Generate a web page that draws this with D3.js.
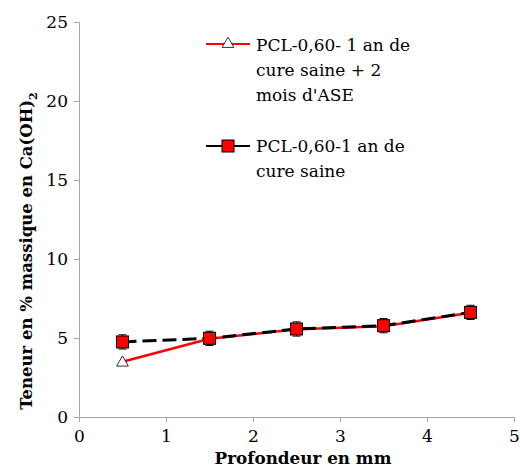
<!DOCTYPE html>
<html><head><meta charset="utf-8">
<script src="https://cdn.jsdelivr.net/npm/d3@7"></script>
<style>body{margin:0;background:#fff}svg{display:block}text{font-family:"DejaVu Serif",serif}</style>
</head><body><svg id="c" width="520" height="471"></svg>
<script>
const depth = [0.5, 1.5, 2.5, 3.5, 4.5];
const aseValues = [3.5, 4.95, 5.55, 5.75, 6.6];
const saineValues = [4.75, 4.98, 5.57, 5.78, 6.62];
const saineErr = [0.45, 0.45, 0.45, 0.45, 0.45];
const xTicks = [0, 1, 2, 3, 4, 5];
const yTicks = [0, 5, 10, 15, 20, 25];
const legendLabels = [["PCL-0,60- 1 an de", "cure saine + 2", "mois d'ASE"], ["PCL-0,60-1 an de", "cure saine"]];

const svg = d3.select("#c");
const x = d3.scaleLinear().domain([0, 5]).range([79, 514]);
const y = d3.scaleLinear().domain([0, 25]).range([417, 22]);
const axisColor = "#a6a6a6";
const fs = 17;

const gx = svg.append("g").attr("transform", `translate(0,${y(0)})`)
  .call(d3.axisBottom(x).tickValues(xTicks).tickSize(5).tickPadding(8).tickFormat(d3.format("d")));
const gy = svg.append("g").attr("transform", `translate(${x(0)},0)`)
  .call(d3.axisLeft(y).tickValues(yTicks).tickSize(5).tickPadding(6).tickFormat(d3.format("d")));
[gx, gy].forEach(g => {
  g.select(".domain").attr("stroke", axisColor);
  g.selectAll(".tick line").attr("stroke", axisColor);
  g.selectAll(".tick text").attr("fill", "#000").style("font-size", fs + "px").style("font-family", '"DejaVu Serif",serif');
});

const pts1 = depth.map((d, i) => [d, aseValues[i]]);
const pts2 = depth.map((d, i) => [d, saineValues[i]]);
const line = d3.line().x(d => x(d[0])).y(d => y(d[1]));

svg.append("path").attr("d", line(pts1)).attr("fill", "none").attr("stroke", "#ff0000").attr("stroke-width", 2.5);
svg.append("path").attr("d", line(pts2)).attr("fill", "none").attr("stroke", "#000").attr("stroke-width", 3).attr("stroke-dasharray", "14,6");

// error bars
const eb = svg.append("g");
depth.forEach((d, i) => {
  const cx = x(d), y1 = y(saineValues[i] - saineErr[i]), y2 = y(saineValues[i] + saineErr[i]);
  eb.append("line").attr("x1", cx).attr("x2", cx).attr("y1", y1).attr("y2", y2).attr("stroke", "#000").attr("stroke-width", 1);
  [y1, y2].forEach(yy => eb.append("line").attr("x1", cx - 4).attr("x2", cx + 4).attr("y1", yy).attr("y2", yy).attr("stroke", "#000").attr("stroke-width", 1));
});

const tri = d3.symbol().type(d3.symbolTriangle).size(60);
svg.append("g").selectAll("path").data(pts1).join("path")
  .attr("d", tri).attr("transform", d => `translate(${x(d[0])},${y(d[1]) + 1})`)
  .attr("fill", "#fff").attr("stroke", "#000").attr("stroke-width", 0.8);

svg.append("g").selectAll("rect").data(pts2).join("rect")
  .attr("x", d => x(d[0]) - 6).attr("y", d => y(d[1]) - 6).attr("width", 12).attr("height", 12)
  .attr("fill", "#ff0000").attr("stroke", "#000").attr("stroke-width", 1);

// legend
const lg = svg.append("g");
lg.append("line").attr("x1", 206).attr("x2", 250).attr("y1", 44).attr("y2", 44).attr("stroke", "#ff0000").attr("stroke-width", 2);
lg.append("path").attr("d", tri).attr("transform", "translate(228,44)").attr("fill", "#fff").attr("stroke", "#000").attr("stroke-width", 0.8);
lg.append("line").attr("x1", 206).attr("x2", 250).attr("y1", 146).attr("y2", 146).attr("stroke", "#000").attr("stroke-width", 2);
lg.append("rect").attr("x", 222).attr("y", 140).attr("width", 12).attr("height", 12).attr("fill", "#ff0000").attr("stroke", "#000");
[[legendLabels[0], 51], [legendLabels[1], 152]].forEach(([lines, y0]) => {
  lines.forEach((t, k) => lg.append("text").attr("x", 256).attr("y", y0 + k * 25).style("font-size", fs + "px").text(t));
});

// axis titles
svg.append("text").attr("x", 303).attr("y", 464).attr("text-anchor", "middle")
  .style("font-size", "16.8px").style("font-weight", "bold").text("Profondeur en mm");
const yt = svg.append("text").attr("transform", "translate(32,251) rotate(-90)").attr("text-anchor", "middle")
  .style("font-size", "16.5px").style("font-weight", "bold");
yt.append("tspan").text("Teneur en % massique en Ca(OH)");
yt.append("tspan").attr("dy", 5).style("font-size", "11px").text("2");
</script></body></html>
